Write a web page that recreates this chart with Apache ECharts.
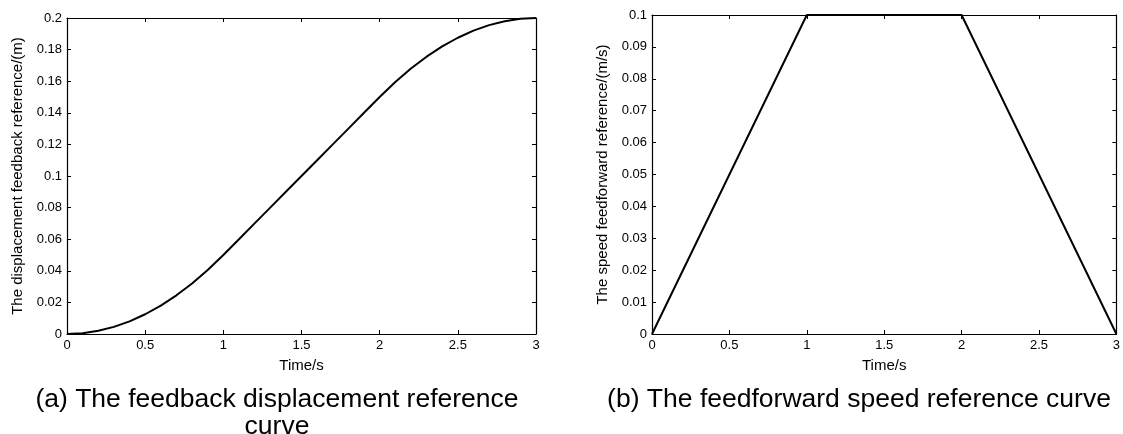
<!DOCTYPE html>
<html>
<head>
<meta charset="utf-8">
<script src="https://cdn.jsdelivr.net/npm/echarts@6/dist/echarts.min.js"></script>
<style>
html,body{margin:0;padding:0;background:#fff;}
#c{width:1123px;height:434px;}
</style>
</head>
<body>
<div id="c"></div>
<script>
// Data
const timeA = [0,0.1,0.2,0.3,0.4,0.5,0.6,0.7,0.8,0.9,1.0,1.1,1.2,1.3,1.4,1.5,1.6,1.7,1.8,1.9,2.0,2.1,2.2,2.3,2.4,2.5,2.6,2.7,2.8,2.9,3.0];
const displacement = [0,0.0005,0.002,0.0045,0.008,0.0125,0.018,0.0245,0.032,0.0405,0.05,0.06,0.07,0.08,0.09,0.1,0.11,0.12,0.13,0.14,0.15,0.1595,0.168,0.1755,0.182,0.1875,0.192,0.1955,0.198,0.1995,0.2];
const timeB = [0,1,2,3];
const speed = [0,0.1,0.1,0];
const xLabel = 'Time/s';
const yLabelA = 'The displacement feedback reference/(m)';
const yLabelB = 'The speed feedforward reference/(m/s)';
const captionA = '(a) The feedback displacement reference\ncurve';
const captionB = '(b) The feedforward speed reference curve';

const FONT = 'Liberation Sans, Arial, sans-serif';
const chart = echarts.init(document.getElementById('c'), null, {renderer:'canvas'});

function fmt(v){ return String(Math.round(v*1000)/1000); }

function xAxes(gi){
  const common = {
    type:'value', gridIndex:gi, min:0, max:3, interval:0.5,
    axisLine:{show:true, onZero:false, lineStyle:{color:'#000', width:1.2}},
    axisTick:{show:true, inside:true, length:4, lineStyle:{color:'#000', width:1}},
    splitLine:{show:false}
  };
  return [
    Object.assign({}, common, {
      position:'bottom', name:xLabel, nameLocation:'middle', nameGap:24,
      nameTextStyle:{fontFamily:FONT, fontSize:15, color:'#000'},
      axisLabel:{show:true, margin:5, fontFamily:FONT, fontSize:13, color:'#000', formatter:fmt}
    }),
    Object.assign({}, common, {position:'top', axisLabel:{show:false}})
  ];
}
function yAxes(gi, max, interval, name){
  const common = {
    type:'value', gridIndex:gi, min:0, max:max, interval:interval,
    axisLine:{show:true, onZero:false, lineStyle:{color:'#000', width:1.2}},
    axisTick:{show:true, inside:true, length:4, lineStyle:{color:'#000', width:1}},
    splitLine:{show:false}
  };
  return [
    Object.assign({}, common, {
      position:'left', name:name, nameLocation:'middle', nameGap:42, nameRotate:90,
      nameTextStyle:{fontFamily:FONT, fontSize:15, color:'#000'},
      axisLabel:{show:true, margin:5, fontFamily:FONT, fontSize:13, color:'#000', formatter:fmt}
    }),
    Object.assign({}, common, {position:'right', axisLabel:{show:false}})
  ];
}

const xa = xAxes(0).concat(xAxes(1));
const ya = yAxes(0, 0.2, 0.02, yLabelA).concat(yAxes(1, 0.1, 0.01, yLabelB));

chart.setOption({
  animation:false,
  backgroundColor:'#fff',
  grid:[
    {left:67, top:18, width:469, height:316},
    {left:652, top:15, width:467, height:319}
  ],
  xAxis: xa,
  yAxis: ya,
  title:[
    {text:captionA, left:277, top:386, textAlign:'center', padding:0,
     textStyle:{fontFamily:FONT, fontSize:26.5, fontWeight:'normal', color:'#000', lineHeight:27}},
    {text:captionB, left:859, top:386, textAlign:'center', padding:0,
     textStyle:{fontFamily:FONT, fontSize:26.5, fontWeight:'normal', color:'#000', lineHeight:27}}
  ],
  series:[
    {type:'line', xAxisIndex:0, yAxisIndex:0, showSymbol:false, smooth:false,
     data: timeA.map((t,i)=>[t, displacement[i]]),
     lineStyle:{color:'#000', width:2}},
    {type:'line', xAxisIndex:2, yAxisIndex:2, showSymbol:false,
     data: timeB.map((t,i)=>[t, speed[i]]),
     lineStyle:{color:'#000', width:2}}
  ]
});
</script>
</body>
</html>
